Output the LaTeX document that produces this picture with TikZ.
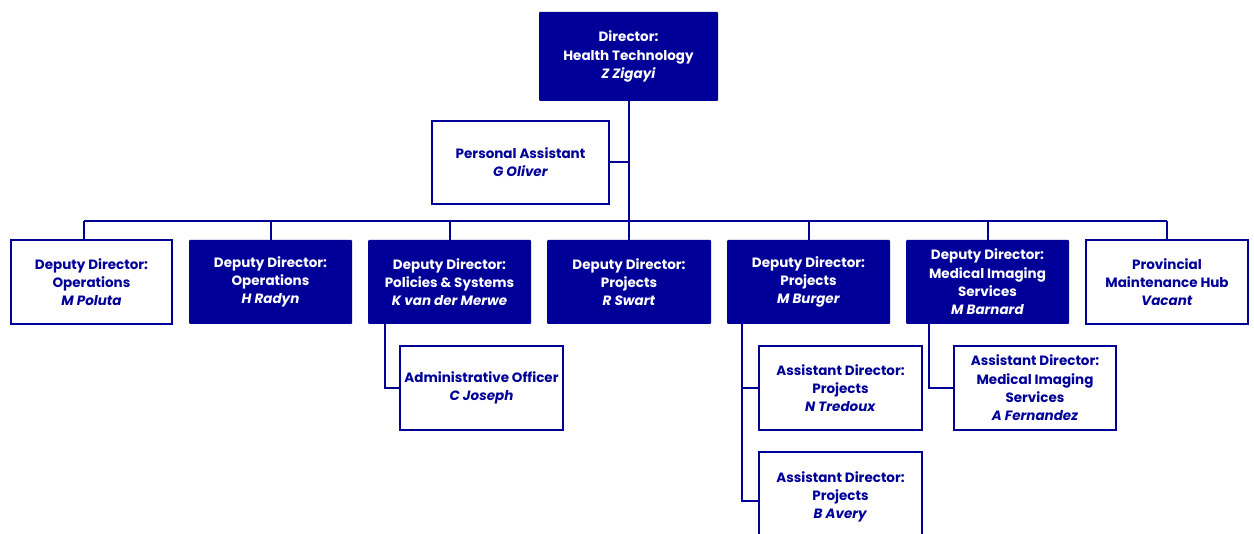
\documentclass[tikz,border=0pt]{standalone}
\usepackage{fontspec}
\setmainfont{Poppins}
\usetikzlibrary{calc}
\definecolor{hd}{RGB}{0,0,153}
\begin{document}
\begin{tikzpicture}[x=1pt,y=-1pt,
  every node/.style={font=\fontsize{13.5}{18.3}\selectfont\bfseries, align=center, inner sep=0pt},
  solidbox/.style={fill=hd, text=white, rounded corners=1pt, minimum width=#1, minimum height=84},
  openbox/.style={draw=hd, line width=2, fill=white, text=hd, minimum width=#1, minimum height=84},
  link/.style={draw=hd, line width=2}]
\useasboundingbox (0,0) rectangle (1254,534);
\clip (0,0) rectangle (1254,534);

% top level
\node[solidbox=179, minimum height=89] (dir) at (628.5,56.5) {Director:\\Health Technology\\\textit{Z Zigayi}};
\node[openbox=177, minimum height=83] (pa) at (520.5,162.5) {Personal Assistant\\\textit{G Oliver}};

% deputy directors
\node[openbox=161] (d1) at (91.5,282) {Deputy Director:\\Operations\\\textit{M Poluta}};
\node[solidbox=163] (d2) at (270.5,282) {Deputy Director:\\Operations\\\textit{H Radyn}};
\node[solidbox=163] (d3) at (449.5,282) {Deputy Director:\\Policies \& Systems\\\textit{K van der Merwe}};
\node[solidbox=164] (d4) at (629,282) {Deputy Director:\\Projects\\\textit{R Swart}};
\node[solidbox=163] (d5) at (808.5,282) {Deputy Director:\\Projects\\\textit{M Burger}};
\node[solidbox=163] (d6) at (987.5,282) {Deputy Director:\\Medical Imaging\\Services\\\textit{M Barnard}};
\node[openbox=162] (d7) at (1167,282) {Provincial\\Maintenance Hub\\\textit{Vacant}};

% third level
\node[openbox=163] (ao) at (481.5,388) {Administrative Officer\\\textit{C Joseph}};
\node[openbox=163] (at) at (840.5,388) {Assistant Director:\\Projects\\\textit{N Tredoux}};
\node[openbox=163, minimum height=90] (ab) at (840.5,497) {Assistant Director:\\Projects\\\textit{B Avery}};
\node[openbox=162] (af) at (1035,388) {Assistant Director:\\Medical Imaging\\Services\\\textit{A Fernandez}};

% connectors
\coordinate (busL) at (84,221);
\coordinate (busR) at (1167,221);
\draw[link] (dir.south) -- (dir.south |- busL);
\draw[link] (pa.east) -- (pa.east -| dir.south);
\draw[link] (busL) -- (busR);
\draw[link] (busL) -- (busL |- d1.north);
\foreach \n in {d2,d3,d4,d5,d6,d7} \draw[link] (\n.north) -- (\n.north |- busL);

\coordinate (c3) at ($(d3.south west)+(17,0)$);
\coordinate (c5) at ($(d5.south west)+(15,0)$);
\coordinate (c6) at ($(d6.south west)+(23,0)$);
\draw[link] (c3) |- (ao.west);
\draw[link] (c5) |- (at.west);
\draw[link] (c5) |- ([yshift=-4]ab.west);
\draw[link] (c6) |- (af.west);
\end{tikzpicture}
\end{document}
